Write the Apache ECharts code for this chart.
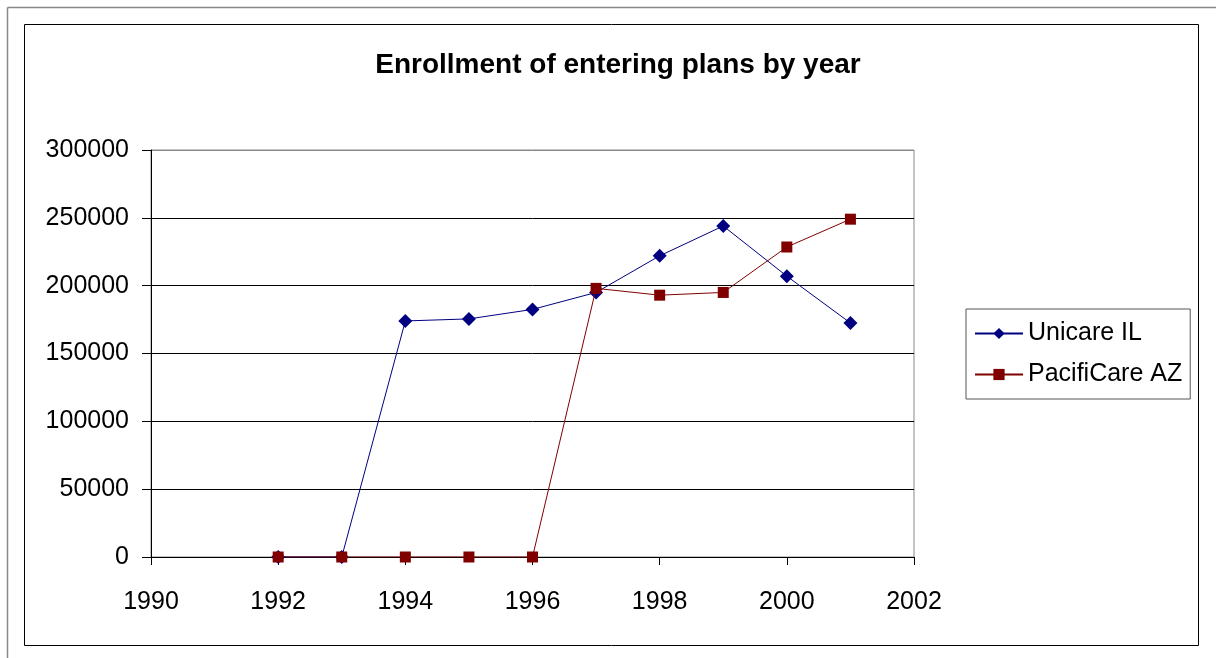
<!DOCTYPE html>
<html><head><meta charset="utf-8">
<script src="https://cdn.jsdelivr.net/npm/echarts@6/dist/echarts.min.js"></script>
<style>html,body{margin:0;padding:0;background:#fff}#c{width:1216px;height:658px}</style>
</head><body><div id="c"></div>
<script>
const years = [1992, 1993, 1994, 1995, 1996, 1997, 1998, 1999, 2000, 2001];
const unicareIL = [0, 0, 174000, 175500, 182500, 195000, 222000, 244000, 207000, 172500];
const pacifiCareAZ = [0, 0, 0, 0, 0, 198000, 193000, 195000, 228500, 249000];
const seriesNames = ['Unicare IL', 'PacifiCare AZ'];

const chart = echarts.init(document.getElementById('c'));
const font = 'Liberation Sans, Arial, sans-serif';
chart.setOption({
  animation: false,
  backgroundColor: '#fff',
  title: {
    text: 'Enrollment of entering plans by year',
    left: 613, top: 46, textAlign: 'center',
    textStyle: { fontFamily: font, fontSize: 28, fontWeight: 'bold', color: '#000' }
  },
  graphic: [
    { type: 'line', shape: { x1: 7.5, y1: 7.5, x2: 1216, y2: 7.5 }, style: { stroke: '#888', lineWidth: 1.5 } },
    { type: 'line', shape: { x1: 7.5, y1: 7.5, x2: 7.5, y2: 658 }, style: { stroke: '#888', lineWidth: 1.5 } },
    { type: 'rect', shape: { x: 24.5, y: 24.5, width: 1174, height: 621 }, style: { fill: 'none', stroke: '#000', lineWidth: 1 } }
  ],
  legend: {
    orient: 'vertical', left: 966, top: 309,
    padding: [12, 8, 12, 8],
    itemGap: 16,
    itemWidth: 48, itemHeight: 14,
    borderColor: '#555', borderWidth: 1,
    textStyle: { fontFamily: font, fontSize: 25, color: '#000' },
    data: seriesNames
  },
  grid: {
    left: 151, top: 150, right: 302, bottom: 101,
    show: true, borderColor: '#888', borderWidth: 1
  },
  xAxis: {
    type: 'value', min: 1990, max: 2002, interval: 2,
    axisLine: { lineStyle: { color: '#000', width: 1 } },
    axisTick: { show: true, inside: false, length: 8, lineStyle: { color: '#000' } },
    axisLabel: { fontFamily: font, fontSize: 25, color: '#000', margin: 33, formatter: v => String(v) },
    splitLine: { show: false }
  },
  yAxis: {
    type: 'value', min: 0, max: 300000, interval: 50000,
    axisLine: { show: true, lineStyle: { color: '#000', width: 1 } },
    axisTick: { show: true, inside: false, length: 9, lineStyle: { color: '#000' } },
    axisLabel: { fontFamily: font, fontSize: 25, color: '#000', margin: 22, padding: [8, 0, 0, 0], formatter: v => String(v) },
    splitLine: { show: true, lineStyle: { color: ['#000', '#000', '#000', '#000', '#000', '#000', '#888'], width: 1 } }
  },
  series: [
    {
      name: seriesNames[0], type: 'line',
      data: years.map((y, i) => [y, unicareIL[i]]),
      symbol: 'diamond', symbolSize: 14,
      itemStyle: { color: '#000080' },
      lineStyle: { color: '#000080', width: 1 },
      z: 2
    },
    {
      name: seriesNames[1], type: 'line',
      data: years.map((y, i) => [y, pacifiCareAZ[i]]),
      symbol: 'rect', symbolSize: 11,
      itemStyle: { color: '#800000' },
      lineStyle: { color: '#800000', width: 1 },
      z: 3
    }
  ]
});
</script></body></html>
